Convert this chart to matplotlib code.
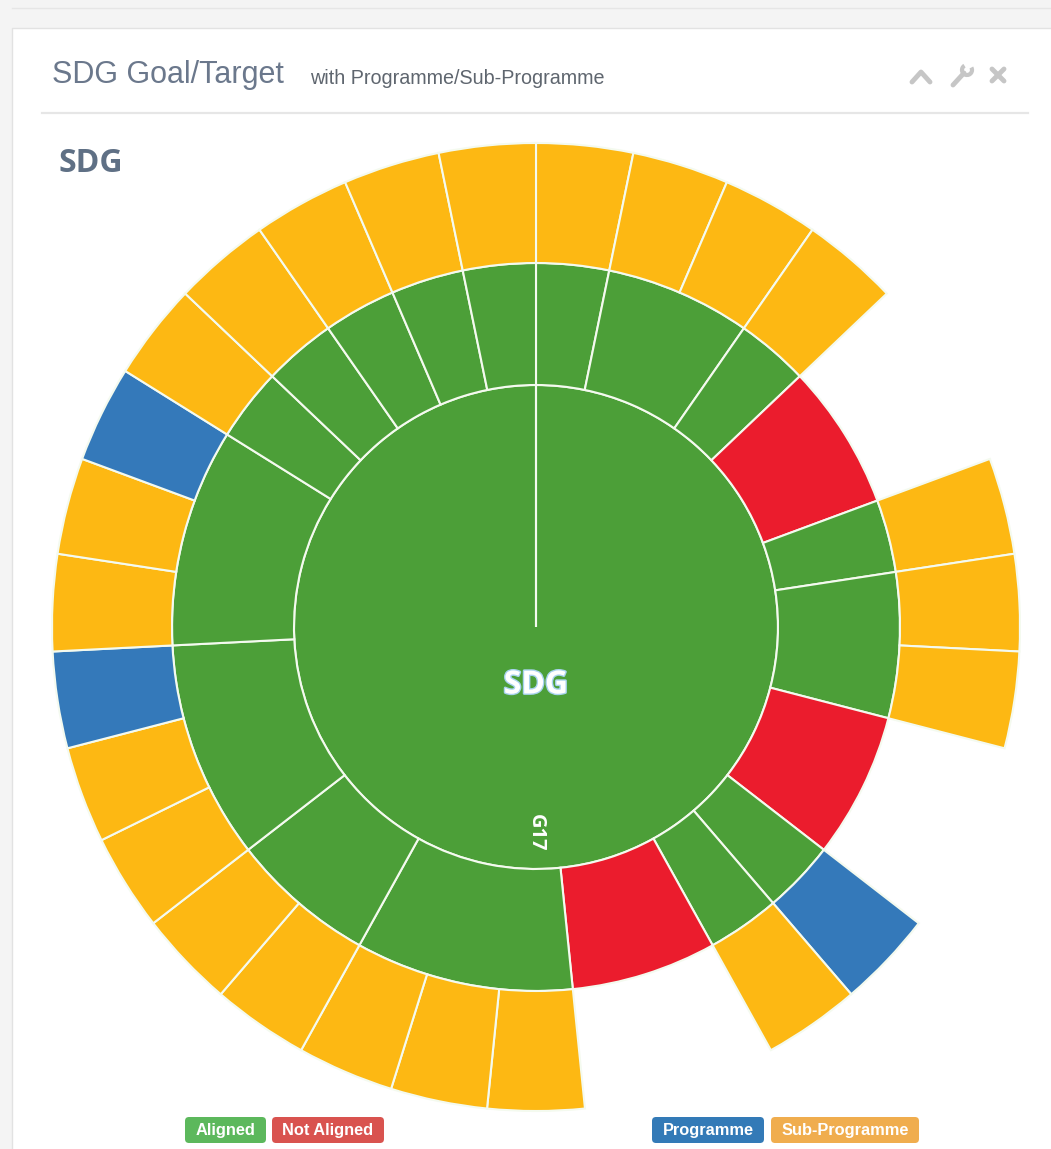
import numpy as np
import matplotlib
matplotlib.use("Agg")
import matplotlib.pyplot as plt
from matplotlib.patches import FancyBboxPatch, Rectangle, Arc
import matplotlib.patheffects as pe

# --- data -------------------------------------------------------------
root_label = "SDG"
goal_label = "G17"

# targets of G17, clockwise from 12 o'clock: size in leaf units and status
target_size = [1, 2, 1, 2, 1, 2, 2, 1, 1, 2, 3, 2, 3, 3, 1, 1, 1, 1, 1]
target_status = ["Aligned", "Aligned", "Aligned", "Not Aligned", "Aligned",
                 "Aligned", "Not Aligned", "Aligned", "Aligned", "Not Aligned",
                 "Aligned", "Aligned", "Aligned", "Aligned", "Aligned",
                 "Aligned", "Aligned", "Aligned", "Aligned"]
# programme / sub-programme under each target
target_children = [
    ["Sub-Programme"],
    ["Sub-Programme", "Sub-Programme"],
    ["Sub-Programme"],
    [],
    ["Sub-Programme"],
    ["Sub-Programme", "Sub-Programme"],
    [],
    ["Programme"],
    ["Sub-Programme"],
    [],
    ["Sub-Programme", "Sub-Programme", "Sub-Programme"],
    ["Sub-Programme", "Sub-Programme"],
    ["Sub-Programme", "Sub-Programme", "Programme"],
    ["Sub-Programme", "Sub-Programme", "Programme"],
    ["Sub-Programme"],
    ["Sub-Programme"],
    ["Sub-Programme"],
    ["Sub-Programme"],
    ["Sub-Programme"],
]

legend_left = ["Aligned", "Not Aligned"]
legend_right = ["Programme", "Sub-Programme"]

# --- styles -----------------------------------------------------------
ring_colors = {"Aligned": "#4c9f38", "Not Aligned": "#eb1c2d",
               "Programme": "#3479ba", "Sub-Programme": "#fdb813"}
badge_colors = {"Aligned": "#5cb85c", "Not Aligned": "#d9534f",
                "Programme": "#337ab7", "Sub-Programme": "#f0ad4e"}
edge = "#f4faef"

W, H = 1051, 1149
CX, CY = 536, 627           # chart centre in pixels
R1, R2, R3 = 242, 364, 484  # ring radii in pixels
RMAX = 492

fig = plt.figure(figsize=(W / 100, H / 100), dpi=100, facecolor="#f4f4f4")

# page / panel layer in pixel coordinates
bg = fig.add_axes([0, 0, 1, 1], zorder=0)
bg.set_xlim(0, W)
bg.set_ylim(H, 0)
bg.set_axis_off()
bg.plot([12, W], [8, 8], color="#e6e6e6", lw=1)
bg.add_patch(Rectangle((12, 28), W, H, facecolor="white", edgecolor="#e2e2e2", lw=1))

bg.text(52, 83, "SDG Goal/Target", fontsize=22, color="#6b788c",
        family="Liberation Sans", va="baseline")
bg.text(310, 84, "with Programme/Sub-Programme", fontsize=14.2, color="#5f666f",
        family="Liberation Sans", va="baseline")
bg.plot([42, 1028], [113, 113], color="#e6e6e6", lw=1.6)

# header tool icons
icon = "#c6c6c6"
bg.plot([912, 921, 930], [82, 72, 82], color=icon, lw=3.5, solid_capstyle="round")
bg.plot([953, 964], [85, 73], color=icon, lw=3.5, solid_capstyle="round")
bg.add_patch(Arc((967, 70), 10, 10, theta1=-30, theta2=240, color=icon, lw=3))
bg.plot([992, 1004], [69, 81], color=icon, lw=3.5, solid_capstyle="round")
bg.plot([992, 1004], [81, 69], color=icon, lw=3.5, solid_capstyle="round")

bg.text(59, 172, root_label, fontsize=23, color="#5f7085",
        family="Open Sans", weight="bold", va="baseline")

# legend badges
def badge(x0, x1, label):
    bg.add_patch(FancyBboxPatch((x0, 1117), x1 - x0, 26,
                                boxstyle="round,pad=0,rounding_size=4",
                                facecolor=badge_colors[label], edgecolor="none"))
    bg.text((x0 + x1) / 2, 1131, label, fontsize=11.8, color="white",
            family="Liberation Sans", weight="bold", ha="center", va="center")

for (x0, x1), lab in zip([(185, 266), (272, 384)], legend_left):
    badge(x0, x1, lab)
for (x0, x1), lab in zip([(652, 764), (771, 919)], legend_right):
    badge(x0, x1, lab)

# --- sunburst ---------------------------------------------------------
rect = [(CX - RMAX) / W, (H - CY - RMAX) / H, 2 * RMAX / W, 2 * RMAX / H]
ax = fig.add_axes(rect, projection="polar", zorder=1)
ax.set_theta_zero_location("N")
ax.set_theta_direction(-1)
ax.set_ylim(0, RMAX)
ax.set_axis_off()
ax.patch.set_alpha(0)

unit = 2 * np.pi / sum(target_size)
starts = np.concatenate([[0], np.cumsum(target_size)[:-1]])

# goal ring (full circle)
ax.bar(0, R1, width=2 * np.pi, bottom=0, align="edge",
       color=ring_colors["Aligned"], edgecolor=edge, linewidth=1.5)

# targets
ax.bar(starts * unit, R2 - R1, width=np.array(target_size) * unit, bottom=R1,
       align="edge", color=[ring_colors[s] for s in target_status],
       edgecolor=edge, linewidth=1.5)

# programmes / sub-programmes
leaf_pos, leaf_kind = [], []
for s, kids in zip(starts, target_children):
    for j, k in enumerate(kids):
        leaf_pos.append(s + j)
        leaf_kind.append(k)
ax.bar(np.array(leaf_pos) * unit, R3 - R2, width=unit, bottom=R2, align="edge",
       color=[ring_colors[k] for k in leaf_kind], edgecolor=edge, linewidth=1.5)

ax.text(np.pi, 58, root_label, fontsize=23, color="white", family="Open Sans",
        weight="bold", ha="center", va="center",
        path_effects=[pe.withStroke(linewidth=2, foreground="#a9d3ef")])
ax.text(np.pi, 206, goal_label, fontsize=14.5, color="white", family="Open Sans",
        weight="bold", ha="center", va="center", rotation=-90)

fig.savefig("out.png", dpi=100, facecolor=fig.get_facecolor())
